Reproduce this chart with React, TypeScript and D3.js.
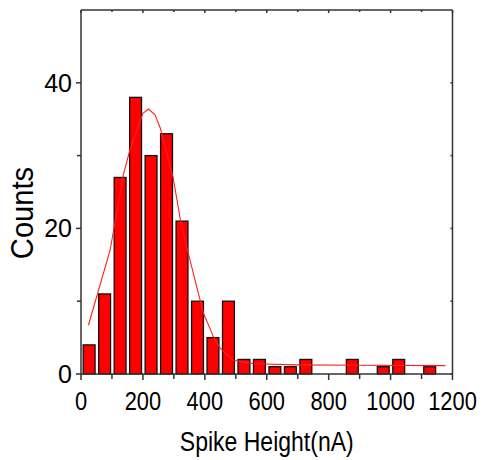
import React, { useEffect, useRef } from "react";
import * as d3 from "d3";

// histogram bins (nA), 50 nA wide
const binStarts = [0, 50, 100, 150, 200, 250, 300, 350, 400, 450, 500, 550, 600, 650, 700, 850, 950, 1000, 1100];
const counts = [4, 11, 27, 38, 30, 33, 21, 10, 5, 10, 2, 2, 1, 1, 2, 2, 1, 2, 1];
const binWidth = 50;

// fitted curve
const fitX = [24, 94, 137, 158, 200, 218, 239, 256, 297, 321, 344, 379, 396, 428, 450, 493, 557, 700, 900, 1177];
const fitY = [6.7, 17.0, 27.4, 30.8, 35.8, 36.4, 35.6, 33.8, 27.1, 21.2, 17.0, 11.1, 8.3, 5.1, 3.5, 1.9, 1.4, 1.25, 1.2, 1.15];

const xTicks = [0, 200, 400, 600, 800, 1000, 1200];
const xMinor = [100, 300, 500, 700, 900, 1100];
const yTicks = [0, 20, 40];
const yMinor = [10, 30];

const W = 484;
const H = 460;
const left = 81;
const right = 452.5;
const top = 10;
const bottom = 374;

const App = () => {
  const ref = useRef<SVGSVGElement>(null);

  useEffect(() => {
    const svg = d3.select(ref.current);
    svg.selectAll("*").remove();

    const x = d3.scaleLinear().domain([0, 1200]).range([left, right]);
    const y = d3.scaleLinear().domain([0, 50]).range([bottom, top]);
    const font = "'Liberation Sans', Arial, sans-serif";
    const axisColor = "#333";

    // bars
    svg
      .append("g")
      .selectAll("rect")
      .data(binStarts)
      .join("rect")
      .attr("x", (d) => x(d) + 2.2)
      .attr("width", (d) => x(d + binWidth) - x(d) - 3.6)
      .attr("y", (d, i) => y(counts[i]))
      .attr("height", (d, i) => bottom - y(counts[i]))
      .attr("fill", "#ff0000")
      .attr("stroke", "#111")
      .attr("stroke-width", 1.3);

    // fit curve
    const line = d3
      .line<number>()
      .x((d) => x(d))
      .y((d, i) => y(fitY[i]));
    svg
      .append("path")
      .datum(fitX)
      .attr("d", line)
      .attr("fill", "none")
      .attr("stroke", "#ff2020")
      .attr("stroke-width", 1.1);

    // frame
    const frame = svg.append("g").attr("stroke", axisColor).attr("stroke-width", 1.5).attr("fill", "none");
    frame.append("line").attr("x1", left).attr("x2", right).attr("y1", bottom).attr("y2", bottom);
    frame.append("line").attr("x1", left).attr("x2", right).attr("y1", top).attr("y2", top);
    frame.append("line").attr("x1", left).attr("x2", left).attr("y1", top).attr("y2", bottom);
    frame.append("line").attr("x1", right).attr("x2", right).attr("y1", top).attr("y2", bottom);

    // bottom ticks (outward), top ticks (inward)
    xTicks.forEach((t) => {
      frame.append("line").attr("x1", x(t)).attr("x2", x(t)).attr("y1", bottom).attr("y2", bottom + 6);
      frame.append("line").attr("x1", x(t)).attr("x2", x(t)).attr("y1", top).attr("y2", top + 3);
    });
    xMinor.forEach((t) => {
      frame.append("line").attr("x1", x(t)).attr("x2", x(t)).attr("y1", bottom).attr("y2", bottom + 5);
      frame.append("line").attr("x1", x(t)).attr("x2", x(t)).attr("y1", top).attr("y2", top + 2);
    });
    // left ticks (outward), right ticks (inward)
    yTicks.forEach((t) => {
      frame.append("line").attr("x1", left - 5).attr("x2", left).attr("y1", y(t)).attr("y2", y(t));
      frame.append("line").attr("x1", right - 2).attr("x2", right).attr("y1", y(t)).attr("y2", y(t));
    });
    yMinor.forEach((t) => {
      frame.append("line").attr("x1", left - 4).attr("x2", left).attr("y1", y(t)).attr("y2", y(t));
      frame.append("line").attr("x1", right - 2).attr("x2", right).attr("y1", y(t)).attr("y2", y(t));
    });

    // x tick labels (slightly tall glyphs, as in the original)
    svg
      .append("g")
      .selectAll("text")
      .data(xTicks)
      .join("text")
      .attr("transform", (d) => `translate(${x(d)},410) scale(0.95,1.12)`)
      .attr("text-anchor", "middle")
      .attr("font-family", font)
      .attr("font-size", 23)
      .text((d) => d);

    // y tick labels
    svg
      .append("g")
      .selectAll("text")
      .data(yTicks)
      .join("text")
      .attr("transform", (d) => `translate(72,${y(d) + 9}) scale(1,1.05)`)
      .attr("text-anchor", "end")
      .attr("font-family", font)
      .attr("font-size", 25)
      .text((d) => d);

    // axis titles
    svg
      .append("text")
      .attr("transform", `translate(${(left + right) / 2},451) scale(0.92,1.1)`)
      .attr("text-anchor", "middle")
      .attr("font-family", font)
      .attr("font-size", 25)
      .text("Spike Height(nA)");

    svg
      .append("text")
      .attr("transform", "translate(33,213) rotate(-90) scale(1.04,1.1)")
      .attr("text-anchor", "middle")
      .attr("font-family", font)
      .attr("font-size", 28)
      .text("Counts");
  }, []);

  return (
    <svg
      ref={ref}
      width={W}
      height={H}
      style={{ position: "absolute", left: 0, top: 0, background: "#fff" }}
    ></svg>
  );
};

export default App;
